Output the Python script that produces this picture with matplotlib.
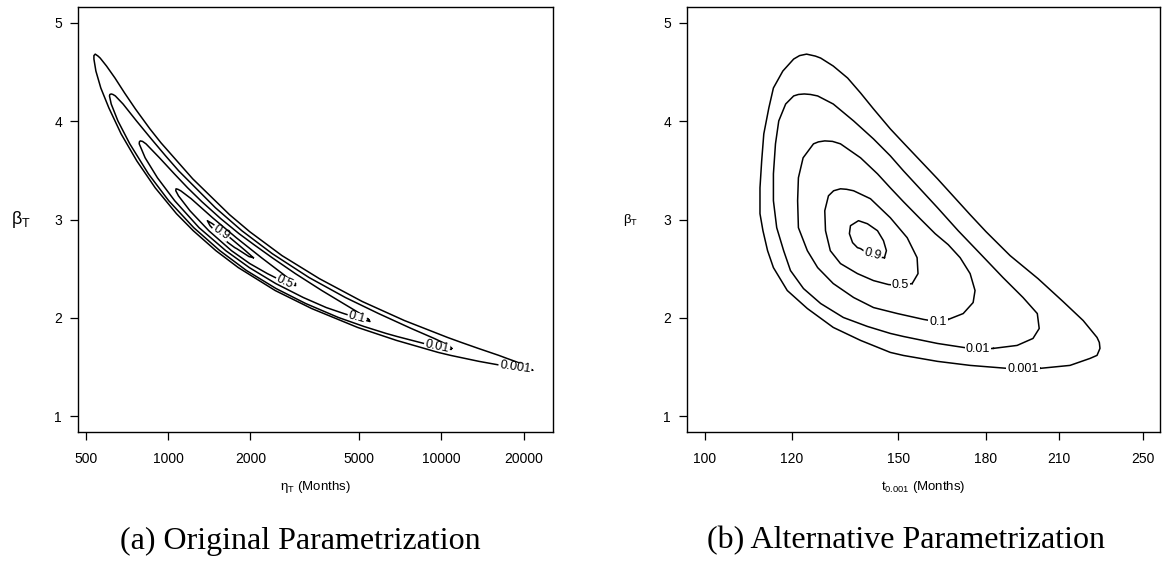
import matplotlib
matplotlib.use("Agg")
import matplotlib.pyplot as plt
from matplotlib.path import Path
from matplotlib.ticker import NullLocator
from matplotlib.transforms import IdentityTransform
import numpy as np

plt.rcParams['font.family'] = ['Liberation Sans', 'DejaVu Sans']
plt.rcParams['mathtext.fontset'] = 'custom'
plt.rcParams['mathtext.rm'] = 'Liberation Sans'

# relative likelihood contour levels
levels = ["0.9", "0.5", "0.1", "0.01", "0.001"]

# beta_T along each contour (same points in both parametrizations)
beta_09 = [2.612, 2.683, 2.785, 2.886, 2.957, 2.988, 2.937, 2.856, 2.765, 2.714, 2.704, 2.623]
beta_05 = [2.349, 2.450, 2.612, 2.815, 3.018, 3.211, 3.292, 3.307, 3.312, 3.292, 3.241, 3.089,
           2.886, 2.683, 2.552, 2.450, 2.379, 2.339, 2.328]
beta_01 = [1.984, 2.044, 2.156, 2.278, 2.450, 2.612, 2.744, 2.856, 3.008, 3.181, 3.322, 3.464,
           3.627, 3.769, 3.794, 3.799, 3.789, 3.769, 3.627, 3.424, 3.191, 2.917, 2.683, 2.511,
           2.349, 2.207, 2.105, 2.044, 1.984, 1.963]
beta_001 = [1.690, 1.720, 1.791, 1.892, 2.044, 2.207, 2.410, 2.653, 2.886, 3.120, 3.495, 3.647,
            3.819, 4.002, 4.174, 4.256, 4.271, 4.276, 4.271, 4.256, 4.174, 4.002, 3.769, 3.464,
            3.191, 2.917, 2.683, 2.481, 2.298, 2.146, 2.004, 1.913, 1.842, 1.811, 1.740, 1.700,
            1.679]
beta_0001 = [1.487, 1.517, 1.588, 1.619, 1.690, 1.750, 1.801, 1.973, 2.166, 2.399, 2.633, 2.876,
             3.049, 3.414, 3.779, 3.921, 4.124, 4.286, 4.438, 4.560, 4.641, 4.661, 4.681, 4.666,
             4.631, 4.509, 4.337, 4.134, 3.870, 3.596, 3.322, 3.059, 2.886, 2.683, 2.511, 2.278,
             2.095, 1.903, 1.771, 1.649, 1.618, 1.558, 1.517, 1.487, 1.467]

# eta_T (months), original parametrization
eta_09 = [2051, 1920, 1736, 1572, 1454, 1393, 1425, 1520, 1657, 1755, 1783, 1978]
eta_05 = [2922, 2620, 2196, 1777, 1455, 1216, 1113, 1087, 1070, 1068, 1092, 1203, 1410, 1707,
          1991, 2309, 2597, 2816, 2927]
eta_01 = [5413, 5042, 4319, 3652, 2922, 2403, 2063, 1819, 1560, 1330, 1180, 1055, 931, 831, 807,
          792, 786, 785, 825, 915, 1058, 1299, 1627, 1984, 2477, 3124, 3790, 4394, 5143, 5476]
eta_001 = [10901, 10667, 9405, 7756, 5888, 4453, 3280, 2405, 1862, 1490, 1094, 980, 869, 767,
           685, 642, 629, 620, 613, 611, 620, 656, 725, 848, 1006, 1242, 1548, 1937, 2485, 3187,
           4198, 5201, 6272, 6873, 8624, 9991, 10843]
eta_0001 = [21004, 20395, 17350, 16197, 13624, 11827, 10526, 7318, 5136, 3576, 2611, 1990, 1679,
            1231, 943, 859, 760, 694, 640, 596, 565, 555, 542, 536, 536, 545, 568, 608, 674, 769,
            898, 1074, 1237, 1497, 1808, 2466, 3352, 4935, 6848, 9726, 10832, 13711, 16550,
            19598, 21590]

# t_0.001 (months), alternative parametrization
t_09 = [145.7, 146.3, 145.4, 143.6, 140.6, 138.0, 135.7, 135.4, 136.3, 137.7, 138.6, 142.1]
t_05 = [154.4, 156.3, 156.0, 152.8, 147.5, 141.5, 136.6, 134.6, 132.9, 131.0, 129.6, 128.6,
        128.8, 130.1, 132.9, 137.7, 142.4, 146.9, 150.6]
t_01 = [166.5, 171.8, 175.4, 176.1, 174.3, 170.7, 166.5, 162.0, 157.0, 151.6, 147.5, 143.6,
        138.6, 132.9, 130.7, 128.6, 126.9, 125.6, 122.9, 121.7, 121.5, 121.7, 124.0, 126.7,
        130.9, 136.6, 142.4, 149.7, 158.2, 162.3]
t_001 = [183.0, 192.3, 198.8, 201.4, 200.6, 194.7, 186.7, 178.0, 170.0, 162.8, 151.6, 147.5,
         142.4, 136.6, 130.9, 126.7, 124.8, 123.2, 121.7, 120.5, 118.5, 116.8, 116.0, 115.5,
         115.5, 116.3, 118.0, 119.7, 123.0, 127.5, 133.7, 140.6, 147.5, 151.6, 162.8, 171.8,
         177.2]
t_0001 = [201.8, 214.8, 224.0, 227.3, 228.7, 228.4, 227.3, 220.8, 211.7, 200.9, 189.5, 180.2,
          174.3, 162.8, 151.6, 147.5, 142.4, 138.6, 134.9, 130.9, 127.5, 126.1, 123.8, 122.0,
          120.5, 117.8, 115.5, 114.4, 113.2, 112.7, 112.3, 112.3, 113.0, 114.1, 115.5, 118.9,
          124.0, 130.9, 138.6, 147.5, 151.6, 162.8, 174.3, 188.3, 194.7]

eta_ticks = [500, 1000, 2000, 5000, 10000, 20000]
t_ticks = [100, 120, 150, 180, 210, 250]
beta_ticks = [1, 2, 3, 4, 5]

betas = [beta_09, beta_05, beta_01, beta_001, beta_0001]
etas = [eta_09, eta_05, eta_01, eta_001, eta_0001]
ts = [t_09, t_05, t_01, t_001, t_0001]

# where R put the contour labels (x, y, rotation)
orig_lab = [(1563, 2.866, -35), (2678, 2.369, -25), (4909, 2.004, -15),
            (9627, 1.710, -12), (18565, 1.497, -8)]
alt_lab = [(142.1, 2.643, -15), (150.6, 2.339, 0), (163.0, 1.963, 0),
           (177.2, 1.679, 0), (194.7, 1.477, 0)]

fig = plt.figure(figsize=(11.62, 5.77), dpi=100)
ax1 = fig.add_axes([78/1162, 1-432/577, 475/1162, 425/577])
ax2 = fig.add_axes([687/1162, 1-432/577, 473/1162, 425/577])

pairs = []
for ax, xs, labs in [(ax1, etas, orig_lab), (ax2, ts, alt_lab)]:
    for lev, x, y, (lx, ly, rot) in zip(levels, xs, betas, labs):
        ln, = ax.plot(x + [x[0]], y + [y[0]], color='black', lw=1.1,
                      solid_joinstyle='round')
        txt = ax.text(lx, ly, lev, fontsize=9, rotation=rot, rotation_mode='anchor',
                      ha='center', va='center')
        pairs.append((ax, ln, txt, lx, ly, rot))

for ax, ticks, lim, xlab, ylsize in [
        (ax1, eta_ticks, (468.8, 25570), "η$_{\\mathregular{T}}$ (Months)", 13),
        (ax2, t_ticks, (96.4, 259.3), "t$_{\\mathregular{0.001}}$ (Months)", 9.5)]:
    ax.set_xscale('log')
    ax.set_xlim(*lim)
    ax.set_ylim(0.84, 5.16)
    ax.set_xticks(ticks)
    ax.set_xticklabels([str(v) for v in ticks])
    ax.xaxis.set_minor_locator(NullLocator())
    ax.set_yticks(beta_ticks)
    ax.set_yticklabels([str(v) for v in beta_ticks])
    ax.tick_params(axis='x', direction='out', length=5.5, width=0.9, labelsize=10, pad=9)
    ax.tick_params(axis='y', direction='out', length=5.5, width=0.9, labelsize=10, pad=6)
    for s in ax.spines.values():
        s.set_linewidth(1.0)
    ax.set_xlabel(xlab, fontsize=9.5, va='center')
    ax.xaxis.set_label_coords(0.5, -0.129)
    ax.set_ylabel("β$_{\\mathregular{T}}$", fontsize=ylsize, rotation=0, ha='center', va='center')
    ax.yaxis.set_label_coords(-0.12, 0.5)

fig.text(300/1162, 1-541/577, "(a) Original Parametrization", family='Liberation Serif',
         fontsize=23, ha='center', va='center')
fig.text(906/1162, 1-541/577, "(b) Alternative Parametrization", family='Liberation Serif',
         fontsize=23, ha='center', va='center')

# break each contour line under its own label, like R does
fig.canvas.draw()
r = fig.canvas.get_renderer()
fw, fh = fig.bbox.width, fig.bbox.height
for ax, ln, txt, lx, ly, rot in pairs:
    txt.set_rotation(0)
    bb = txt.get_window_extent(r)
    txt.set_rotation(rot)
    cx, cy = ax.transData.transform((lx, ly))
    w, h = bb.width + 2, bb.height * 0.8
    c, s = np.cos(np.deg2rad(rot)), np.sin(np.deg2rad(rot))
    box = [(cx + c*dx - s*dy, cy + s*dx + c*dy)
           for dx, dy in [(-w/2, -h/2), (w/2, -h/2), (w/2, h/2), (-w/2, h/2)]]
    hole = box[::-1]
    outer = [(0, 0), (fw, 0), (fw, fh), (0, fh)]
    verts = outer + [outer[0]] + hole + [hole[0]]
    codes = [Path.MOVETO, Path.LINETO, Path.LINETO, Path.LINETO, Path.CLOSEPOLY] * 2
    ln.set_clip_path(Path(verts, codes), IdentityTransform())

fig.savefig("out.png", dpi=100)
